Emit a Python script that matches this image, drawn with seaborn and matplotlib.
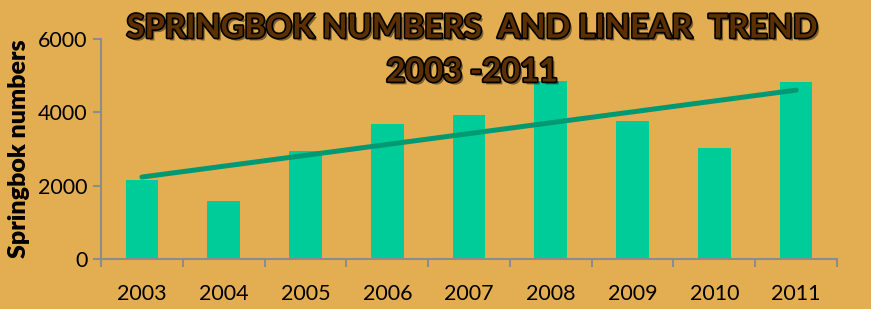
import numpy as np
import pandas as pd
import matplotlib.pyplot as plt
import matplotlib.patheffects as pe
import seaborn as sns

# Springbok counts
years = ["2003", "2004", "2005", "2006", "2007", "2008", "2009", "2010", "2011"]
counts = [2150, 1590, 2950, 3690, 3920, 4850, 3770, 3030, 4815]
y_ticks = [0, 2000, 4000, 6000]

bg = "#E3AE52"
bar_color = "#00CC99"
trend_color = "#009973"
axis_gray = "#8C8C8C"

sns.set_theme(style="white")
plt.rcParams["font.family"] = ["Lato", "DejaVu Sans"]

df = pd.DataFrame({"year": years, "count": counts})

fig = plt.figure(figsize=(8.71, 3.09), dpi=100, facecolor=bg)
ax = fig.add_axes([0.116, 0.162, 0.845, 0.712])
ax.set_facecolor(bg)

sns.barplot(data=df, x="year", y="count", color=bar_color, saturation=1,
            width=0.4, edgecolor="none", linewidth=0, ax=ax)

# Linear trend through the counts.
idx = np.arange(len(counts))
slope, icpt = np.polyfit(idx, counts, 1)
ax.plot(idx[[0, -1]], icpt + slope * idx[[0, -1]], color=trend_color,
        lw=3.6, solid_capstyle="round", zorder=5)

ax.set_xlim(-0.5, len(years) - 0.5)
ax.set_ylim(0, 6000)
ax.set_yticks(y_ticks)
ax.set_xlabel("")
ax.set_ylabel("Springbok numbers", fontsize=18, fontweight="heavy", labelpad=6,
              color="black")

for s in ["top", "right"]:
    ax.spines[s].set_visible(False)
for s in ["left", "bottom"]:
    ax.spines[s].set_color(axis_gray)
    ax.spines[s].set_linewidth(1.5)

# Category ticks sit between the bars.
ax.set_xticks(np.arange(-0.5, len(years)), minor=True)
ax.tick_params(axis="x", which="major", length=0, labelsize=15.5, pad=18,
               colors="black")
ax.tick_params(axis="x", which="minor", length=6, width=1.5, color=axis_gray,
               direction="out", bottom=True)
ax.tick_params(axis="y", length=6, width=1.5, color=axis_gray, direction="out",
               labelsize=15.5, left=True, labelcolor="black")

title_fx = [pe.withSimplePatchShadow(offset=(2, -2), shadow_rgbFace="black", alpha=0.45),
            pe.withStroke(linewidth=2.4, foreground="black")]
for txt, y in [("SPRINGBOK NUMBERS  AND LINEAR  TREND", 0.878),
               ("2003 -2011", 0.736)]:
    t = fig.text(0.542, y, txt, ha="center", va="baseline", fontsize=23.5,
                 fontweight="bold", color="#5C3000",
                 family=["Lato", "DejaVu Sans"])
    t.set_path_effects(title_fx)

fig.savefig("out.png", dpi=100, facecolor=bg)
